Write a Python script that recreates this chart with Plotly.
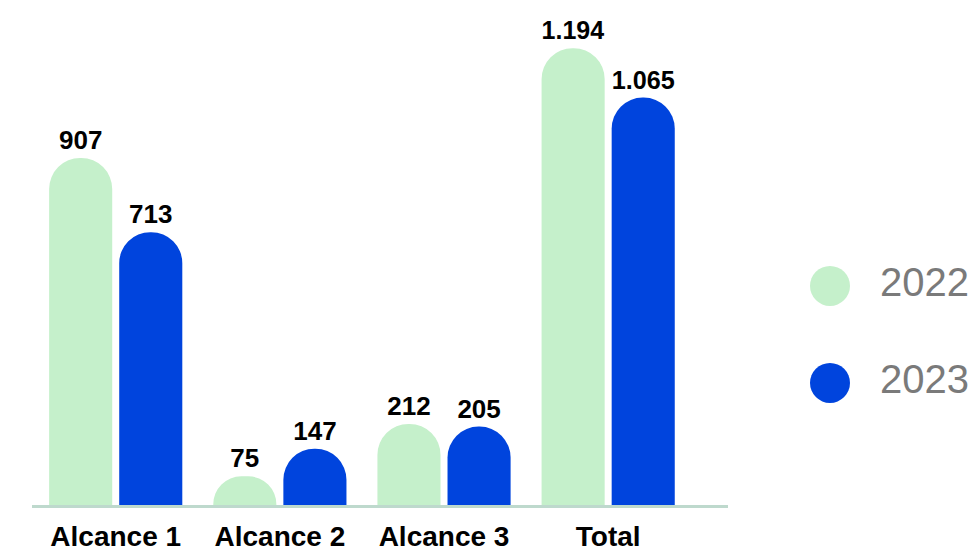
import plotly.graph_objects as go

categories = ["Alcance 1", "Alcance 2", "Alcance 3", "Total"]
years = ["2022", "2023"]
values_2022 = [907, 75, 212, 1194]
values_2023 = [713, 147, 205, 1065]
colors = ["#C5F0CB", "#0044DD"]

W, H = 973, 551
FONT = "Liberation Sans, Arial, Helvetica, sans-serif"

fig = go.Figure()
for yr, vals, col in zip(years, [values_2022, values_2023], colors):
    fig.add_trace(go.Bar(
        x=categories, y=vals, name=yr,
        marker=dict(color=col, cornerradius="50%", line=dict(width=0)),
        texttemplate="<b>%{y:,}</b>", textposition="outside",
        textfont=dict(size=26, color="#000000", family=FONT),
        cliponaxis=False, showlegend=False,
        xaxis="x", yaxis="y",
    ))

# custom legend (large circles) drawn on its own axes
fig.add_trace(go.Scatter(
    x=[0, 0], y=years, mode="markers",
    marker=dict(size=40, color=colors, line=dict(width=0)),
    xaxis="x2", yaxis="y2", showlegend=False, hoverinfo="skip",
))
fig.add_trace(go.Scatter(
    x=[50, 50], y=years, mode="text", text=years, textposition="middle right",
    textfont=dict(size=40, color="#7A7A7A", family=FONT),
    xaxis="x2", yaxis="y2", showlegend=False, hoverinfo="skip",
))

fig.update_layout(
    width=W, height=H,
    margin=dict(l=0, r=0, t=0, b=46, autoexpand=False),
    paper_bgcolor="white", plot_bgcolor="white",
    separators=",.",
    barmode="group", bargap=0.146, bargroupgap=0.1,
    xaxis=dict(
        domain=[32 / W, 728 / W], range=[-0.51, 3.73],
        showline=True, linecolor="#BED9CD", linewidth=3,
        showgrid=False, zeroline=False, ticks="",
        ticklabelstandoff=4, automargin=False,
        tickfont=dict(size=28, color="#000000", family=FONT, weight="bold"),
        fixedrange=True,
    ),
    yaxis=dict(range=[0, 1320], visible=False, fixedrange=True, automargin=False),
    xaxis2=dict(domain=[780 / W, 1], range=[-50, 143], visible=False, anchor="y2"),
    yaxis2=dict(domain=[0, 1], range=[-1.258, 3.948], visible=False, anchor="x2",
                type="category", categoryorder="array", categoryarray=["2023", "2022"]),
    font=dict(family=FONT),
)

fig.write_html("out.html")
